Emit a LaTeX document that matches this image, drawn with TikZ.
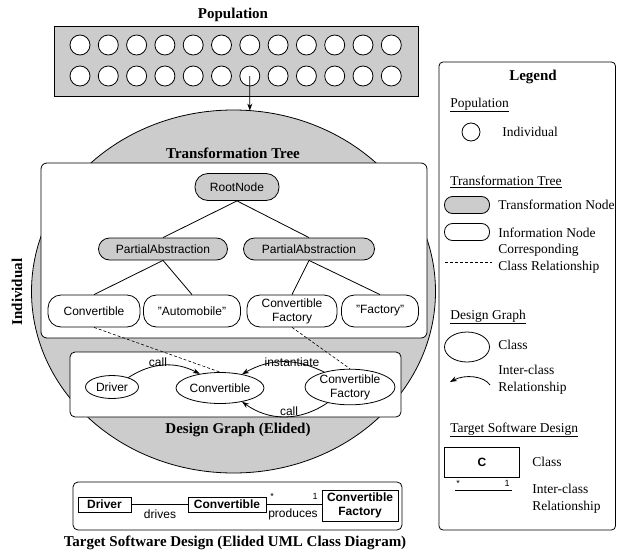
\documentclass[tikz,border=0pt]{standalone}
\usepackage{fontspec}
\setmainfont{Liberation Serif}
\setsansfont{Liberation Sans}
\usetikzlibrary{arrows.meta,shapes.geometric}
\definecolor{shade}{HTML}{CCCCCC}
\begin{document}
\begin{tikzpicture}[x=1pt,y=-1pt,line width=0.8pt,
  title/.style={font=\fontsize{15}{17}\selectfont\bfseries},
  legtxt/.style={font=\fontsize{13.5}{17}\selectfont,anchor=west,align=left,inner sep=0pt},
  indiv/.style={circle,draw,fill=white,minimum size=20pt,inner sep=0pt},
  tnode/.style={draw,fill=shade,rounded corners=11pt,inner sep=0pt,font=\sffamily\fontsize{12}{14}\selectfont},
  inode/.style={draw,fill=white,rounded corners=13pt,inner sep=0pt,align=center,font=\sffamily\fontsize{12}{14}\selectfont},
  cls/.style={ellipse,draw,fill=white,inner sep=0pt,align=center,font=\sffamily\fontsize{12}{14}\selectfont},
  umlbox/.style={draw,fill=white,inner sep=0pt,align=center,font=\sffamily\bfseries\fontsize{12}{14}\selectfont},
  sanslbl/.style={inner sep=0pt,font=\sffamily\fontsize{12}{14}\selectfont},
  mult/.style={inner sep=0pt,font=\sffamily\fontsize{9}{10}\selectfont},
  rel/.style={-{Stealth[length=7pt,width=5pt]}},
  corr/.style={dashed,dash pattern=on 3pt off 2pt,line width=0.6pt}
]
\useasboundingbox (0,0) rectangle (617,551);

% Population
\node[title] (poplbl) at (233,15) {Population};
\node[draw,fill=shade,minimum width=364pt,minimum height=70pt,inner sep=0pt] (popbox) at (236,61) {};
\foreach \i in {1,...,12}{
  \node[indiv] (pa-\i) at ({80+(\i-1)*28.3},45) {};
  \node[indiv] (pb-\i) at ({80+(\i-1)*28.3},76) {};
}

% Individual ellipse
\node[ellipse,draw,fill=shade,minimum width=404pt,minimum height=363pt,inner sep=0pt] (indiv) at (233.5,291.5) {};
\coordinate (arrtip) at (249.8,110.6);
\draw[rel] (pb-7.center) -- (arrtip);
\node[title,rotate=90] (indivlbl) at (17,292) {Individual};

% Transformation tree
\node[title] (ttlbl) at (233,153) {Transformation Tree};
\draw[fill=white,rounded corners=6pt] (41,163) rectangle (427,338);
\node[tnode,minimum width=84pt,minimum height=27pt,rounded corners=13pt] (root) at (237,187) {RootNode};
\node[tnode,minimum width=129pt,minimum height=22pt] (pal) at (163,249) {PartialAbstraction};
\node[tnode,minimum width=131pt,minimum height=22pt] (par) at (309,249) {PartialAbstraction};
\node[inode,minimum width=92pt,minimum height=32pt] (tconv) at (94,311) {Convertible};
\node[inode,minimum width=97pt,minimum height=32pt] (tauto) at (192,311) {"Automobile"};
\node[inode,minimum width=90pt,minimum height=32pt] (tcf) at (292,311) {Convertible\\Factory};
\node[inode,minimum width=77pt,minimum height=32pt] (tfac) at (380,311) {"Factory"};
\draw (root.south) -- (pal.north);
\draw (root.south) -- (par.north);
\draw (pal.south) -- (tconv.north);
\draw (pal.south) -- (tauto.north);
\draw (par.south) -- (tcf.north);
\draw (par.south) -- (tfac.north);

% Design graph
\draw[fill=white,rounded corners=5pt] (70,352) rectangle (401,417);
\node[cls,minimum width=53pt,minimum height=23pt] (gdrv) at (112,387) {Driver};
\node[cls,minimum width=88pt,minimum height=31pt] (gconv) at (220,388) {Convertible};
\node[cls,minimum width=90pt,minimum height=30pt] (gcf) at (350,387) {Convertible\\Factory};
\draw[rel] (gdrv.30) to[bend left=30] (gconv.145);
\draw[rel] (gcf.150) to[bend right=28] (gconv.32);
\draw[rel] (gcf.215) to[bend left=35] (gconv.-32);
\node[sanslbl] (lcall1) at (158,362) {call};
\node[sanslbl] (linst) at (292,362) {instantiate};
\node[sanslbl] (lcall2) at (289,411) {call};
\draw[corr] (tconv.south) -- (gconv.north);
\draw[corr] (tcf.south) -- (gcf.north);
\node[title] (dglbl) at (238,430) {Design Graph (Elided)};

% UML
\draw[rounded corners=5pt] (73,482) rectangle (402,530);
\node[umlbox,minimum width=53pt,minimum height=15pt] (udrv) at (104.5,504.5) {Driver};
\node[umlbox,minimum width=78pt,minimum height=15pt] (uconv) at (227,504.5) {Convertible};
\node[umlbox,minimum width=76pt,minimum height=31pt] (ucf) at (360,505.5) {Convertible\\Factory};
\draw (udrv.east) -- (uconv.west);
\draw (uconv.east) -- (uconv.east -| ucf.west);
\node[sanslbl] (ldrives) at (160,514) {drives};
\node[sanslbl] (lprod) at (293,514) {produces};
\node[mult] (lstar) at (272,496) {*};
\node[mult] (lone) at (315,496) {1};
\node[title] (tsdlbl) at (235,543) {Target Software Design (Elided UML Class Diagram)};

% Legend
\draw[rounded corners=4pt] (439,62) rectangle (615.5,530);
\node[title] (leglbl) at (533,77) {Legend};
\node[legtxt] (lhpop) at (450,105) {\underline{Population}};
\node[circle,draw,minimum size=18pt,inner sep=0pt] (lcirc) at (471,132) {};
\node[legtxt] (lind) at (502,132) {Individual};
\node[legtxt] (lhtt) at (450,182) {\underline{Transformation Tree}};
\node[draw,fill=shade,rounded corners=8pt,minimum width=45pt,minimum height=17pt,inner sep=0pt] (ltn) at (467,205) {};
\node[legtxt] (ltnt) at (498,205) {Transformation Node};
\node[draw,fill=white,rounded corners=8pt,minimum width=45pt,minimum height=17pt,inner sep=0pt] (lin) at (467,232) {};
\node[legtxt] (lint) at (498,233) {Information Node};
\coordinate (ldash1) at (445,262);
\coordinate (ldash2) at (492,262);
\draw[corr] (ldash1) -- (ldash2);
\node[legtxt] (lcorr) at (498,259) {Corresponding\\Class Relationship};
\node[legtxt] (lhdg) at (450,317) {\underline{Design Graph}};
\node[ellipse,draw,minimum width=45pt,minimum height=30pt,inner sep=0pt] (lcls) at (467,347) {};
\node[legtxt] (lclst) at (498,345) {Class};
\coordinate (larr1) at (490,385);
\coordinate (larr2) at (450,382);
\draw[rel] (larr1) .. controls (484,376) and (465,374) .. (larr2);
\node[legtxt] (lrel) at (498,380) {Inter-class\\Relationship};
\node[legtxt] (lhtsd) at (450,430) {\underline{Target Software Design}};
\node[draw,minimum width=75pt,minimum height=30pt,inner sep=0pt,font=\sffamily\bfseries\fontsize{12}{14}\selectfont] (lc) at (482,462) {C};
\node[legtxt] (lct) at (532,462) {Class};
\coordinate (lline1) at (455,490);
\coordinate (lline2) at (512,490);
\draw (lline1) -- (lline2);
\node[mult] (lls) at (458,483) {*};
\node[mult] (ll1) at (507,483) {1};
\node[legtxt] (lrel2) at (532,499) {Inter-class\\Relationship};
\end{tikzpicture}
\end{document}
